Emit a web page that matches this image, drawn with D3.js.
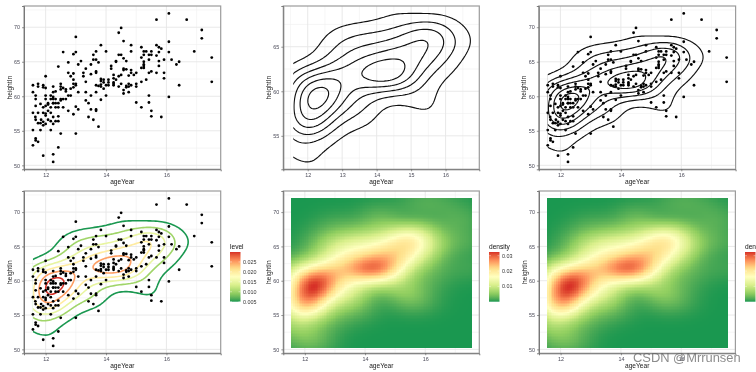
<!DOCTYPE html>
<html>
<head>
<meta charset="utf-8">
<script src="https://cdn.jsdelivr.net/npm/d3@7"></script>
<style>
html, body { margin: 0; padding: 0; background: #fff; overflow: hidden; }
svg { display: block; filter: blur(0.45px); font-family: "Liberation Sans", Arial, sans-serif; }
</style>
</head>
<body>
<div id="plot"></div>
<script>
// values (a few points overplot each other in the two dense clusters)
const ageYear = [
  11.58,11.58,11.58,11.58,11.58,11.67,11.67,11.67,11.66,11.67,11.67,11.67,11.75,11.75,11.75,11.75,11.75,
  11.83,11.83,11.85,11.83,11.92,11.92,11.92,11.92,11.92,11.92,11.92,12,12,12,12,12,12,12,12,
  12.08,12.08,12.08,12.08,12.17,12.17,12.17,12.17,12.17,12.17,12.25,12.25,12.25,12.25,12.25,12.25,12.25,12.25,12.25,
  12.33,12.33,12.33,12.33,12.42,12.42,12.42,12.42,12.42,12.5,12.5,12.5,12.5,12.5,12.5,
  12.58,12.58,12.58,12.58,12.67,12.67,12.67,12.75,12.75,12.75,12.75,12.83,12.83,12.83,
  12.92,12.92,12.92,12.92,12.92,12.92,13,13,13,13,13,13,13.08,13.08,13.08,13.17,13.25,13.25,
  13.33,13.33,13.33,13.33,13.42,13.42,13.5,13.5,13.5,13.5,13.58,13.58,13.58,
  13.67,13.67,13.67,13.67,13.67,13.67,13.67,13.67,13.75,13.75,13.75,13.83,13.83,13.83,13.83,13.83,13.83,
  13.92,13.92,13.92,14,14,14,14.08,14.08,14.08,14.17,14.17,14.25,14.25,14.25,14.25,14.33,14.33,
  14.42,14.42,14.42,14.42,14.5,14.5,14.5,14.5,14.58,14.58,14.58,14.58,14.58,14.58,
  14.67,14.67,14.67,14.67,14.75,14.75,14.75,14.75,14.83,14.83,14.83,14.83,14.83,14.92,15,15,15,15,
  15.17,15.17,15.17,15.17,15.17,15.25,15.25,15.25,15.25,15.25,15.25,15.33,15.33,
  15.42,15.42,15.42,15.42,15.42,15.5,15.5,15.5,15.5,15.5,15.67,15.67,15.67,15.67,
  15.75,15.75,15.75,15.75,15.83,15.83,15.92,15.92,15.92,16.08,16.08,16.08,16.08,16.17,16.33,16.42,16.42,
  16.67,16.92,17.17,17.17,17.5,17.5,
  12.25,12.33,12.42,14.25,14.33
]
const heightIn = [
  61.6,60.6,57.6,55.1,52.9,60.1,59.6,58.6,57,56.6,53.9,53.6,61.8,61.4,57.6,56.1,53.4,
  58.9,56.1,56.6,55.1,61.6,61.3,58.4,57.6,56.3,55.8,51.4,62.9,61.2,60.1,59.6,58.6,57.5,57.2,56,
  59,58.8,57.9,56.6,60.1,59.6,58.4,57.6,56.4,55.1,61.4,60.6,59.9,59.6,59,57,56,51.6,50.5,
  60.7,59,58.4,56.4,57.1,56.4,64.3,58.4,52.6,61.8,61.4,61,59.6,59.4,54.6,
  66.4,61.2,59.6,58.4,61,60.7,59.6,64.9,63.4,60.1,57.9,62.9,61.1,60.1,
  66.1,63.3,62.4,61.8,61.3,57.4,68.6,66.4,61.8,61.6,58.5,54.6,64.6,60.6,58.1,65.1,63.4,62.9,
  64,62.1,60.6,59.4,59,57,64.6,63.2,60.1,58.1,56.6,66,65.3,
  66.5,65.3,63.6,63.4,61.6,60.6,58.1,57.9,64.9,61.5,55.6,67.4,62.5,62.2,61.7,61.4,59.5,
  62.4,62,61.1,66.5,61.6,60.1,62.4,62,61.6,64.4,64,63.1,62.6,61.8,61.6,65.1,65,
  69.2,66,62.9,61.4,69.9,66,63.1,61.8,68,65.5,64,63.8,60.9,60.4,
  65.1,63.9,61.5,61.3,63,61.4,61.8,60.6,67.4,66.5,63.8,63.4,61.6,63.1,63.4,61.8,61.4,59.1,
  67.1,65.6,64.1,62.1,58.4,66.5,66,65,64.6,64.4,64.1,66.5,62.4,
  66,65.3,63.4,60.1,59.1,66.5,66,63.6,57.9,57.1,71.1,67.4,65.9,63.4,
  67.1,66.4,65.1,64.4,66.9,57,65.3,63.4,62.6,72,67.9,66.4,59.9,65.3,64.6,65,61.6,
  71.1,66.5,69.6,68.4,65.6,62.1,
  59,59.6,59,62,62.4
]
const contourLevels = [0.005, 0.01, 0.015, 0.02, 0.025, 0.03]
const levelTicks = [0.005, 0.01, 0.015, 0.02, 0.025]
const densityTicks = [0.01, 0.02, 0.03]
const ageTicks = [12, 14, 16]
const ageTicksContour = [12, 13, 14, 15, 16]
const heightTicks = [50, 55, 60, 65, 70]
const heightTicksContour = [55, 60, 65]
const rdYlGn7 = ['#1a9850', '#91cf60', '#d9ef8b', '#ffffbf', '#fee08b', '#fc8d59', '#d73027']

let expand = (lo, hi) => {
  let pad = (hi - lo) * 0.05
  return [lo - pad, hi + pad]
}

// same estimate as MASS::kde2d with bandwidth.nrd, on a 100x100 grid over the data range
let nrd = (v) => {
  let sorted = v.slice().sort(d3.ascending)
  let iqr = d3.quantileSorted(sorted, 0.75) - d3.quantileSorted(sorted, 0.25)
  return 1.06 * Math.min(d3.deviation(v), iqr / 1.34) * Math.pow(v.length, -0.2)
}
let computeDensity = (xv, yv, n) => {
  let x0 = d3.min(xv), x1 = d3.max(xv), y0 = d3.min(yv), y1 = d3.max(yv)
  let hx = nrd(xv), hy = nrd(yv)
  let xs = d3.range(n).map(i => x0 + (x1 - x0) * i / (n - 1))
  let ys = d3.range(n).map(i => y0 + (y1 - y0) * i / (n - 1))
  let values = new Array(n * n).fill(0)
  let norm = 1 / (2 * Math.PI * hx * hy * xv.length)
  for (let k = 0; k < xv.length; k++) {
    for (let j = 0; j < n; j++) {
      let dy = (ys[j] - yv[k]) / hy
      for (let i = 0; i < n; i++) {
        let dx = (xs[i] - xv[k]) / hx
        values[j * n + i] += norm * Math.exp(-0.5 * (dx * dx + dy * dy))
      }
    }
  }
  return {values, xs, ys, n, dx: xs[1] - xs[0], dy: ys[1] - ys[0]}
}

let density = computeDensity(ageYear, heightIn, 100)
let contours = d3.contours().size([density.n, density.n]).thresholds(contourLevels)(density.values)

// contour extents give the scale of the lines-only panel
let contourPts = contours.flatMap(c => c.coordinates.flatMap(p => p.flatMap(r => r)))
let contourX = contourPts.map(p => density.xs[0] + (p[0] - 0.5) * density.dx)
let contourY = contourPts.map(p => density.ys[0] + (p[1] - 0.5) * density.dy)

let svg = d3.select('#plot').append('svg').attr('width', 756).attr('height', 372)

let makePanel = (box, xDomain, yDomain, xTicks, yTicks, id) => {
  let x = d3.scaleLinear().domain(xDomain).range([box.left, box.right])
  let y = d3.scaleLinear().domain(yDomain).range([box.bottom, box.top])
  let g = svg.append('g')

  // minor grid sits half way between the major ticks
  let step = xTicks[1] - xTicks[0]
  let xMinor = d3.range(xTicks[0] - step / 2, xDomain[1], step).filter(d => d > xDomain[0])
  let yStep = yTicks[1] - yTicks[0]
  let yMinor = d3.range(yTicks[0] - yStep / 2, yDomain[1], yStep).filter(d => d > yDomain[0])
  g.selectAll('.vminor').data(xMinor).join('line').attr('x1', d => x(d)).attr('x2', d => x(d))
    .attr('y1', box.top).attr('y2', box.bottom).attr('stroke', '#f0f0f0').attr('stroke-width', 0.6)
  g.selectAll('.hminor').data(yMinor).join('line').attr('y1', d => y(d)).attr('y2', d => y(d))
    .attr('x1', box.left).attr('x2', box.right).attr('stroke', '#f0f0f0').attr('stroke-width', 0.6)
  g.selectAll('.vmajor').data(xTicks).join('line').attr('x1', d => x(d)).attr('x2', d => x(d))
    .attr('y1', box.top).attr('y2', box.bottom).attr('stroke', '#e6e6e6').attr('stroke-width', 0.9)
  g.selectAll('.hmajor').data(yTicks).join('line').attr('y1', d => y(d)).attr('y2', d => y(d))
    .attr('x1', box.left).attr('x2', box.right).attr('stroke', '#e6e6e6').attr('stroke-width', 0.9)

  // marks go in here, then the frame is added on top by finishPanel
  let marks = svg.append('g')
  svg.append('clipPath').attr('id', id).append('rect')
    .attr('x', x(density.xs[0])).attr('y', y(d3.max(density.ys)))
    .attr('width', x(d3.max(density.xs)) - x(density.xs[0]))
    .attr('height', y(density.ys[0]) - y(d3.max(density.ys)))

  return {x, y, marks, box, xTicks, yTicks, id}
}

let finishPanel = (p) => {
  let {x, y, box} = p
  svg.append('rect').attr('x', box.left).attr('y', box.top)
    .attr('width', box.right - box.left).attr('height', box.bottom - box.top)
    .attr('fill', 'none').attr('stroke', '#9c9c9c').attr('stroke-width', 1.2)

  let xAxis = svg.append('g').attr('transform', 'translate(0,' + box.bottom + ')')
    .call(d3.axisBottom(x).tickValues(p.xTicks).tickFormat(d3.format('d')).tickSize(2).tickPadding(2))
  let yAxis = svg.append('g').attr('transform', 'translate(' + box.left + ',0)')
    .call(d3.axisLeft(y).tickValues(p.yTicks).tickFormat(d3.format('d')).tickSize(2).tickPadding(2))
  for (let a of [xAxis, yAxis]) {
    a.select('.domain').attr('stroke', '#707070').attr('stroke-width', 0.9)
    a.selectAll('.tick line').attr('stroke', '#555').attr('stroke-width', 0.6)
    a.selectAll('.tick text').attr('fill', '#4a4a58').attr('font-size', 5.4).attr('font-family', null)
  }

  svg.append('text').attr('x', (box.left + box.right) / 2).attr('y', box.bottom + 15)
    .attr('text-anchor', 'middle').attr('font-size', 6.6).attr('fill', '#222').text('ageYear')
  svg.append('text')
    .attr('transform', 'translate(' + (box.left - 12.5) + ',' + (box.top + box.bottom) / 2 + ') rotate(-90)')
    .attr('text-anchor', 'middle').attr('font-size', 6.6).attr('fill', '#222').text('heightIn')
}

let drawPoints = (p) => {
  p.marks.selectAll('circle').data(ageYear).join('circle')
    .attr('cx', d => p.x(d)).attr('cy', (d, i) => p.y(heightIn[i]))
    .attr('r', 1.4).attr('fill', '#000')
}

let drawContours = (p, color, width) => {
  let line = d3.line().x(c => p.x(density.xs[0] + (c[0] - 0.5) * density.dx))
    .y(c => p.y(density.ys[0] + (c[1] - 0.5) * density.dy))
  let rows = contours.flatMap(c => c.coordinates.flatMap(poly => poly.map(ring => ({value: c.value, ring}))))
  p.marks.append('g').attr('clip-path', 'url(#' + p.id + ')')
    .selectAll('path').data(rows).join('path')
    .attr('d', d => line(d.ring))
    .attr('fill', 'none')
    .attr('stroke', d => color(d.value))
    .attr('stroke-width', width)
}

let rampScale = (lo, hi) => d3.scaleLinear()
  .domain(rdYlGn7.map((c, i) => lo + (hi - lo) * i / (rdYlGn7.length - 1)))
  .range(rdYlGn7)
  .interpolate(d3.interpolateLab)

let drawHeat = (p, fill) => {
  let cells = density.values.map((v, k) => ({v, i: k % density.n, j: Math.floor(k / density.n)}))
  p.marks.append('g').attr('shape-rendering', 'crispEdges')
    .selectAll('rect').data(cells).join('rect')
    .attr('x', d => p.x(density.xs[d.i] - density.dx / 2))
    .attr('y', d => p.y(density.ys[d.j] + density.dy / 2))
    .attr('width', p.x(density.dx) - p.x(0) + 1)
    .attr('height', p.y(0) - p.y(density.dy) + 1)
    .attr('fill', d => fill(d.v))
}

let legendCount = 0
let drawLegend = (left, top, title, lo, hi, fill, ticks, fmt) => {
  let barW = 10.5, barH = 49.7
  let y = d3.scaleLinear().domain([lo, hi]).range([top + barH, top])
  let gradId = 'ramp' + (legendCount++)
  let grad = svg.append('defs').append('linearGradient').attr('id', gradId)
    .attr('x1', 0).attr('x2', 0).attr('y1', 1).attr('y2', 0)
  grad.selectAll('stop').data(d3.range(0, 1.0001, 0.05)).join('stop')
    .attr('offset', d => d).attr('stop-color', d => fill(lo + (hi - lo) * d))
  svg.append('text').attr('x', left).attr('y', top - 3).attr('font-size', 6.6).attr('fill', '#111').text(title)
  svg.append('rect').attr('x', left).attr('y', top).attr('width', barW).attr('height', barH)
    .attr('fill', 'url(#' + gradId + ')')
  let t = svg.append('g').selectAll('g').data(ticks).join('g')
  t.append('line').attr('x1', left).attr('x2', left + 2).attr('y1', d => y(d)).attr('y2', d => y(d))
    .attr('stroke', '#fff').attr('stroke-width', 0.4)
  t.append('line').attr('x1', left + barW - 2).attr('x2', left + barW).attr('y1', d => y(d)).attr('y2', d => y(d))
    .attr('stroke', '#fff').attr('stroke-width', 0.4)
  t.append('text').attr('x', left + barW + 2.5).attr('y', d => y(d)).attr('dy', '0.35em')
    .attr('font-size', 5.4).attr('fill', '#333').text(d => fmt(d))
}

let dataX = expand(d3.min(ageYear), d3.max(ageYear))
let dataY = expand(d3.min(heightIn), d3.max(heightIn))
let lineX = expand(d3.min(contourX), d3.max(contourX))
let lineY = expand(d3.min(contourY), d3.max(contourY))
let densMin = d3.min(density.values), densMax = d3.max(density.values)

// scatter
let p1 = makePanel({left: 24, right: 220.7, top: 6, bottom: 169.3}, dataX, dataY, ageTicks, heightTicks, 'c1')
drawPoints(p1)
finishPanel(p1)

// contour lines only
let p2 = makePanel({left: 283.3, right: 479.3, top: 6, bottom: 169.3}, lineX, lineY, ageTicksContour, heightTicksContour, 'c2')
drawContours(p2, () => '#111', 1.15)
finishPanel(p2)

// points + contours
let p3 = makePanel({left: 538.8, right: 735.6, top: 6, bottom: 169.3}, dataX, dataY, ageTicks, heightTicks, 'c3')
drawPoints(p3)
drawContours(p3, () => '#111', 1.15)
finishPanel(p3)

// contours coloured by level
let levelRamp = rampScale(contourLevels[0], contourLevels[contourLevels.length - 1])
let p4 = makePanel({left: 24, right: 220.7, top: 191, bottom: 353.3}, dataX, dataY, ageTicks, heightTicks, 'c4')
drawContours(p4, levelRamp, 1.6)
drawPoints(p4)
finishPanel(p4)
drawLegend(230, 252, 'level', 0.005, 0.03, levelRamp, levelTicks, d3.format('.3f'))

// raster panels
let heatRamp = rampScale(densMin, densMax)
let p5 = makePanel({left: 283.3, right: 479.3, top: 191, bottom: 353.3}, dataX, dataY, ageTicks, heightTicks, 'c5')
drawHeat(p5, heatRamp)
finishPanel(p5)
drawLegend(489, 252, 'density', densMin, densMax, heatRamp, densityTicks, d3.format('.2f'))

let p6 = makePanel({left: 539, right: 735.4, top: 191, bottom: 353.3}, dataX, dataY, ageTicks, heightTicks, 'c6')
drawHeat(p6, heatRamp)
finishPanel(p6)
drawLegend(745, 252, 'density', densMin, densMax, heatRamp, densityTicks, d3.format('.2f'))

svg.append('text').attr('x', 633).attr('y', 361.5).attr('font-size', 12.9)
  .attr('fill', '#666').attr('fill-opacity', 0.75).text('CSDN @Mrrunsen')
</script>
</body>
</html>
